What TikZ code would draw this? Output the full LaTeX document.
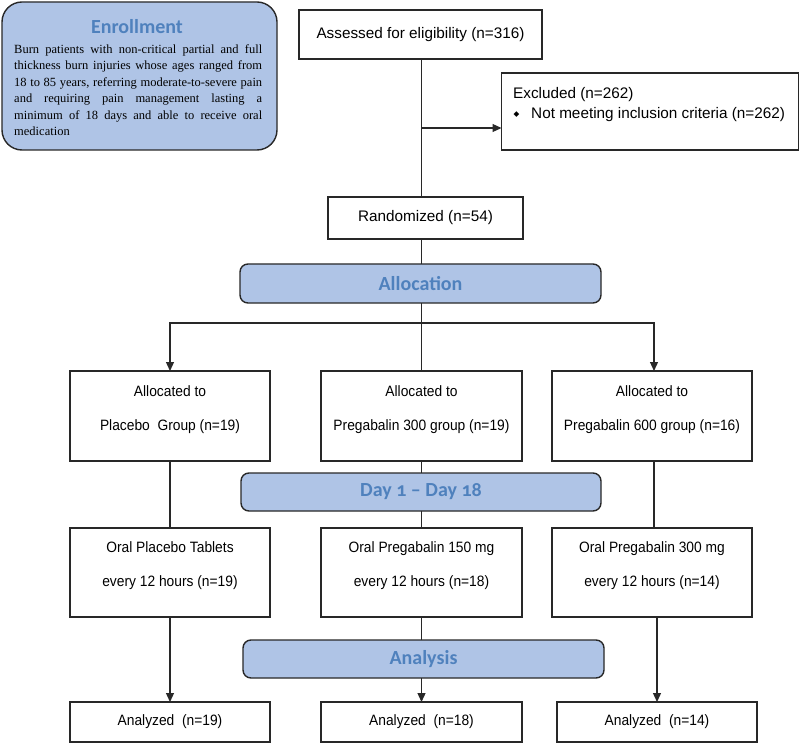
\documentclass[tikz,border=0pt]{standalone}
\usepackage{fontspec}
\setmainfont{Liberation Sans}
\newfontfamily\narrowsans[FakeStretch=0.92]{Liberation Sans}
\newfontfamily\serifbody{Liberation Serif}
\newfontfamily\titlefont[Numbers=OldStyle]{Carlito}
\newfontfamily\symfont{DejaVu Sans}
\usetikzlibrary{arrows.meta}
\definecolor{fillblue}{RGB}{175,196,230}
\definecolor{titleblue}{RGB}{79,129,189}
\definecolor{edge}{RGB}{40,40,40}
\begin{document}
\begin{tikzpicture}[x=1pt,y=-1pt,
  wbox/.style={draw=edge, line width=1.2pt, fill=white, inner sep=0pt, outer sep=0pt},
  phase/.style={draw=edge, line width=1.4pt, fill=fillblue, rounded corners=8pt, inner sep=0pt, outer sep=0pt, text=titleblue, font={\titlefont\bfseries\fontsize{20}{24}\selectfont}},
  upper/.style={font={\fontsize{15.3}{20}\selectfont}},
  lower/.style={font={\narrowsans\fontsize{15}{34}\selectfont}, align=center, inner sep=0pt},
  conn/.style={draw=edge, line width=1.25pt},
  arr/.style={conn, -{Triangle[length=9pt,width=8pt]}}]
\useasboundingbox (0,0) rectangle (800,743);

% Enrollment
\node[phase, rounded corners=20pt, minimum width=275pt, minimum height=148pt] (enroll) at (139.5,76) {};
\node[text=titleblue, font={\titlefont\bfseries\fontsize{20}{24}\selectfont}] (enrolltitle) at (137,27) {Enrollment};
\node[anchor=north west, inner sep=0pt, align=left, font={\serifbody\fontsize{12.5}{16.4}\selectfont}] (enrolltext) at (14,44.5) {%
\makebox[248pt][s]{Burn patients with non-critical partial and full}\\
\makebox[248pt][s]{thickness burn injuries whose ages ranged from}\\
\makebox[248pt][s]{18 to 85 years, referring moderate-to-severe pain}\\
\makebox[248pt][s]{and requiring pain management lasting a}\\
\makebox[248pt][s]{minimum of 18 days and able to receive oral}\\
medication};

% Top chain
\node[wbox, upper, minimum width=243pt, minimum height=49pt] (assess) at (420.5,34.5) {Assessed for eligibility (n=316)};
\node[wbox, minimum width=297pt, minimum height=77pt] (excl) at (650,111.5) {};
\node[upper, anchor=west, inner sep=0pt] (exc1) at (513,95) {Excluded (n=262)};
\node[anchor=west, inner sep=0pt, font={\symfont\fontsize{7.5}{9}\selectfont}] (bullet) at (513.5,115) {◆};
\node[upper, anchor=west, inner sep=0pt] (exc2) at (531,115) {Not meeting inclusion criteria (n=262)};
\node[wbox, upper, minimum width=195pt, minimum height=42pt] (rand) at (425.5,218) {Randomized (n=54)};

% Phase bars
\node[phase, minimum width=361pt, minimum height=39pt] (alloc) at (420.5,283.5) {Allocation};
\node[phase, minimum width=360pt, minimum height=38pt] (day) at (421,492) {Day 1 – Day 18};
\node[phase, minimum width=361pt, minimum height=38pt] (analysis) at (423.5,659) {Analysis};

% Row 1
\node[wbox, minimum width=200pt, minimum height=90pt] (a1) at (170,416) {};
\node[wbox, minimum width=201pt, minimum height=90pt] (a2) at (421.5,416) {};
\node[wbox, minimum width=200pt, minimum height=90pt] (a3) at (652,416) {};
\node[lower] (ta1) at (170,410) {Allocated to\\Placebo~ Group (n=19)};
\node[lower] (ta2) at (421.5,410) {Allocated to\\Pregabalin 300 group (n=19)};
\node[lower] (ta3) at (652,410) {Allocated to\\Pregabalin 600 group (n=16)};

% Row 2
\node[wbox, minimum width=200pt, minimum height=89pt] (b1) at (170,572.5) {};
\node[wbox, minimum width=201pt, minimum height=89pt] (b2) at (421.5,572.5) {};
\node[wbox, minimum width=200pt, minimum height=89pt] (b3) at (652,572.5) {};
\node[lower] (tb1) at (170,566) {Oral Placebo Tablets\\every 12 hours (n=19)};
\node[lower] (tb2) at (421.5,566) {Oral Pregabalin 150 mg\\every 12 hours (n=18)};
\node[lower] (tb3) at (652,566) {Oral Pregabalin 300 mg\\every 12 hours (n=14)};

% Row 3
\node[wbox, lower, minimum width=200pt, minimum height=40pt] (c1) at (170,722) {Analyzed~ (n=19)};
\node[wbox, lower, minimum width=201pt, minimum height=40pt] (c2) at (421.5,722) {Analyzed~ (n=18)};
\node[wbox, lower, minimum width=200pt, minimum height=40pt] (c3) at (657,722) {Analyzed~ (n=14)};

% Connectors
\coordinate (mid) at (421.5,0);
\coordinate (exj) at (421.5,128);
\coordinate (hl) at (170,323);
\coordinate (hr) at (654,323);
\draw[conn] (assess.south -| mid) -- (rand.north -| mid);
\draw[arr] (exj) -- (exj -| excl.west);
\draw[conn] (rand.south -| mid) -- (alloc.north -| mid);
\draw[conn] (alloc.south -| mid) -- (a2.north -| mid);
\draw[arr] (hl -| mid) -- (hl) -- (a1.north);
\draw[arr] (hl -| mid) -- (hr) -- (hr |- a3.north);
\draw[conn] (a1.south) -- (b1.north);
\draw[conn] (a2.south) -- (day.north -| a2.south);
\draw[conn] (day.south -| a2.south) -- (b2.north);
\draw[conn] (a3.south -| hr) -- (b3.north -| hr);
\draw[arr] (b1.south) -- (c1.north);
\draw[conn] (b2.south) -- (analysis.north -| b2.south);
\draw[arr] (analysis.south -| b2.south) -- (c2.north);
\draw[arr] (b3.south -| c3.north) -- (c3.north);
\end{tikzpicture}
\end{document}
